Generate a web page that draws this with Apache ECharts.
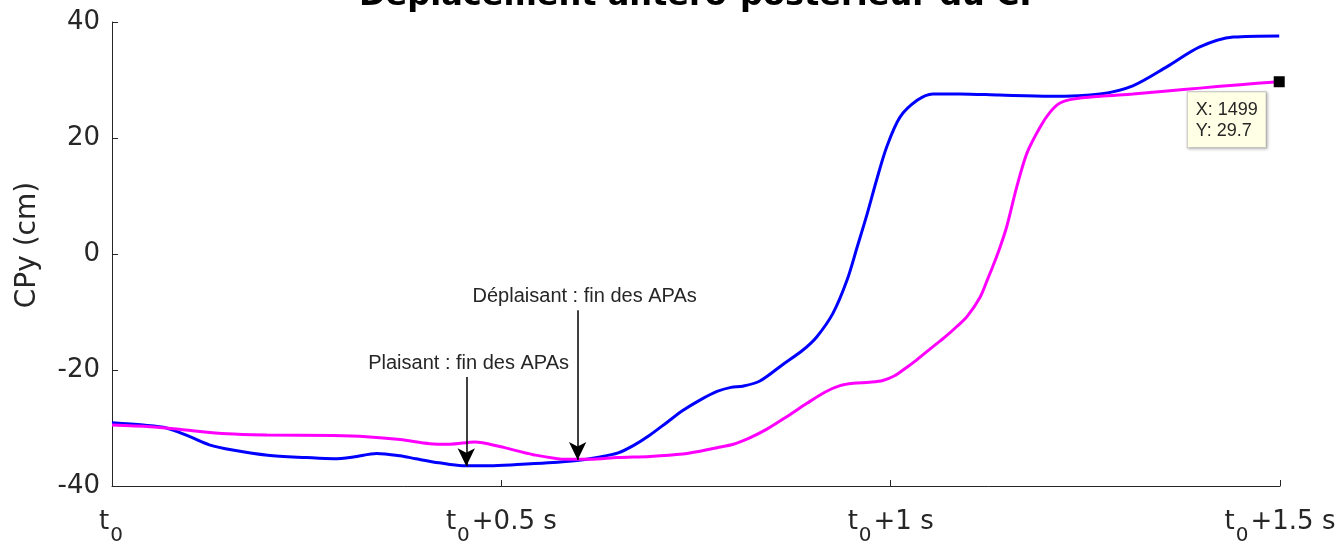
<!DOCTYPE html>
<html><head><meta charset="utf-8">
<script src="https://cdn.jsdelivr.net/npm/echarts@6/dist/echarts.min.js"></script>
<style>html,body{margin:0;padding:0;background:#fff}#c{width:1344px;height:548px}</style>
</head><body><div id="c"></div>
<script>
const titleText = 'Déplacement antéro-postérieur du CP';
const yAxisName = 'CPy (cm)';
const xTicks = [0, 500, 1000, 1500];
const xTickSuffix = ['', '+0.5 s', '+1 s', '+1.5 s'];
const yTicks = [-40, -20, 0, 20, 40];

const blueTime = [0, 40, 70, 100, 125, 155, 200, 250, 285, 310, 340, 370, 390, 420, 450, 485, 520, 560, 597, 627, 650, 670, 690, 713, 733, 755, 777, 795, 810, 832, 862, 887, 905, 926, 944, 957, 970, 982, 995, 1012, 1034, 1054, 1089, 1140, 1205, 1269, 1311, 1355, 1397, 1440, 1499];
const blueCP = [-29.1, -29.5, -30.0, -31.5, -32.9, -33.8, -34.7, -35.1, -35.3, -35.0, -34.4, -34.8, -35.3, -36.0, -36.5, -36.5, -36.3, -36.0, -35.6, -35.0, -34.3, -33.0, -31.3, -29.0, -27.0, -25.2, -23.7, -23.0, -22.8, -21.9, -19.0, -16.6, -14.3, -10.2, -4.5, 1.2, 7.0, 12.8, 18.5, 23.6, 26.5, 27.6, 27.6, 27.4, 27.2, 27.6, 29.0, 32.3, 35.7, 37.4, 37.6];

const magentaTime = [0, 49, 91, 148, 199, 284, 327, 370, 408, 434, 466, 498, 541, 584, 614, 649, 691, 733, 755, 777, 798, 819, 841, 867, 893, 916, 935, 952, 973, 990, 1005, 1020, 1034, 1054, 1070, 1085, 1098, 1115, 1124, 1131, 1140, 1149, 1162, 1175, 1192, 1205, 1217, 1234, 1269, 1311, 1355, 1397, 1449, 1499];
const magentaCP = [-29.5, -29.8, -30.3, -31.0, -31.2, -31.3, -31.5, -32.0, -32.7, -32.8, -32.4, -33.2, -34.6, -35.4, -35.4, -35.1, -34.9, -34.5, -34.0, -33.4, -32.8, -31.7, -30.2, -28.0, -25.7, -23.8, -22.7, -22.3, -22.1, -21.8, -21.0, -19.6, -18.2, -16.0, -14.3, -12.5, -10.8, -7.4, -4.5, -2.2, 1.0, 4.7, 11.6, 17.4, 21.9, 24.5, 26.0, 26.7, 27.2, 27.6, 28.1, 28.6, 29.2, 29.7];

const annotationText = ['Plaisant : fin des APAs', 'Déplaisant : fin des APAs'];
const annotationTextTime = [458, 607];
const annotationTextCP = [-18.8, -7.4];
const arrowTime = [455, 598];
const arrowStartCP = [-21.2, -9.7];
const arrowEndCP = [-36.6, -35.5];

const dataTipTime = 1499;
const dataTipCP = 29.7;

const chart = echarts.init(document.getElementById('c'), null, {renderer: 'canvas'});
const axisColor = '#262626';
const zip = (a, b) => a.map((v, i) => [v, b[i]]);

const option = {
  backgroundColor: '#fff',
  animation: false,
  title: {
    text: titleText, left: 696, top: -24, textAlign: 'center',
    textStyle: {fontFamily: 'DejaVu Sans', fontWeight: 'bold', fontSize: 32, color: '#000'}
  },
  grid: {left: 112, right: 64, top: 22, bottom: 62, containLabel: false},
  xAxis: {
    type: 'value', min: 0, max: 1500, interval: 500,
    axisLine: {show: true, onZero: false, lineStyle: {color: axisColor, width: 1}},
    axisTick: {show: true, inside: true, length: 6, lineStyle: {color: axisColor}},
    splitLine: {show: false},
    axisLabel: {
      margin: 12,
      formatter: function (v) {
        const i = xTicks.indexOf(v);
        return '{t|t}{s|0}' + (xTickSuffix[i] ? '{t|' + xTickSuffix[i] + '}' : '');
      },
      rich: {
        t: {fontFamily: 'DejaVu Sans', fontSize: 26, color: axisColor},
        s: {fontFamily: 'DejaVu Sans', fontSize: 20, color: axisColor, padding: [28, 2, 0, 1]}
      }
    }
  },
  yAxis: {
    type: 'value', min: -40, max: 40, interval: 20,
    name: yAxisName, nameLocation: 'middle', nameGap: 70,
    nameTextStyle: {fontFamily: 'DejaVu Sans', fontSize: 28, color: axisColor, padding: [0, 0, 0, 18]},
    axisLine: {show: true, onZero: false, lineStyle: {color: axisColor, width: 1}},
    axisTick: {show: true, inside: true, length: 6, lineStyle: {color: axisColor}},
    splitLine: {show: false},
    axisLabel: {
      margin: 12,
      fontFamily: 'DejaVu Sans', fontSize: 26, color: axisColor,
      formatter: v => yTicks.includes(v) ? String(v) : ''
    }
  },
  series: [
    {
      type: 'line', data: zip(blueTime, blueCP), smooth: 0.3, showSymbol: false,
      lineStyle: {color: '#0000ff', width: 3}, z: 2
    },
    {
      type: 'line', data: zip(magentaTime, magentaCP), smooth: 0.3, showSymbol: false,
      lineStyle: {color: '#ff00ff', width: 3}, z: 3,
      markPoint: {
        silent: true,
        data: [{
          coord: [dataTipTime, dataTipCP], symbol: 'rect', symbolSize: 11,
          itemStyle: {color: '#000'},
          label: {
            show: true, position: [-86, 16],
            formatter: 'X: ' + dataTipTime + '\nY: ' + dataTipCP,
            fontFamily: 'Liberation Sans', fontSize: 18, lineHeight: 21, color: '#262626',
            backgroundColor: '#ffffe6', borderColor: '#c8c8c8', borderWidth: 1,
            padding: [7, 8, 6, 8], align: 'left', verticalAlign: 'top',
            shadowColor: 'rgba(0,0,0,0.25)', shadowBlur: 3, shadowOffsetX: 1, shadowOffsetY: 1
          }
        }]
      }
    },
    {
      type: 'line', data: [], z: 5,
      markLine: {
        silent: true, animation: false,
        symbol: ['none', 'arrow'], symbolSize: [13, 18],
        lineStyle: {color: '#000', width: 1.5, type: 'solid'},
        label: {show: false},
        data: arrowTime.map((t, i) => [{coord: [t, arrowStartCP[i]]}, {coord: [t, arrowEndCP[i]]}])
      },
      markPoint: {
        silent: true,
        symbol: 'circle', symbolSize: 0,
        data: annotationText.map((s, i) => ({
          coord: [annotationTextTime[i], annotationTextCP[i]],
          label: {
            show: true, position: 'inside', formatter: s,
            fontFamily: 'Liberation Sans', fontSize: 20, color: '#262626'
          }
        }))
      }
    }
  ]
};
chart.setOption(option);
</script></body></html>
